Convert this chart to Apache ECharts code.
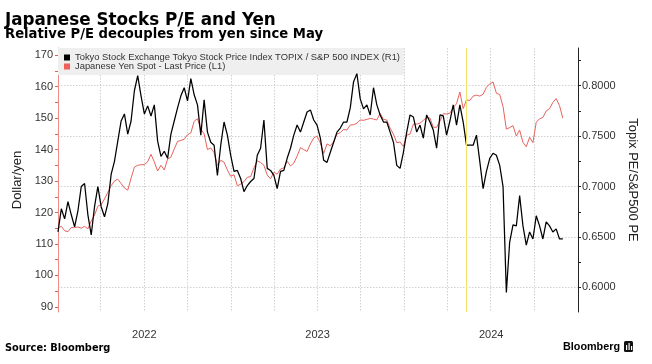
<!DOCTYPE html>
<html><head><meta charset="utf-8">
<script src="https://cdn.jsdelivr.net/npm/echarts@6/dist/echarts.min.js"></script>
<style>html,body{margin:0;padding:0;background:#fff}#c{width:652px;height:364px}</style>
</head><body><div id="c"></div>
<script>
// Weekly observations starting 2022-01-01
const startYear = 2022;
const yearLabels = ['2022', '2023', '2024'];
const yenName = 'Japanese Yen Spot - Last Price (L1)';
const peName = 'Tokyo Stock Exchange Tokyo Stock Price Index TOPIX / S&P 500 INDEX (R1)';
const yen = [115.1,115.6,114.2,113.9,115.2,115.2,115.4,115.0,115.6,114.8,
117.3,119.2,122.0,122.5,124.3,126.4,128.5,130.0,130.6,129.2,
127.8,127.1,130.9,134.4,135.0,135.2,135.2,136.1,138.5,136.1,
133.2,135.0,133.5,137.0,137.6,140.2,142.6,142.9,143.3,144.7,
145.3,149.0,149.8,146.5,145.0,140.0,140.5,139.0,135.0,136.6,
136.0,133.5,131.5,132.0,128.5,129.0,129.8,131.2,131.4,134.2,
136.4,135.9,135.0,131.9,130.7,132.8,132.2,133.8,134.2,136.3,
134.8,135.7,137.9,140.6,140.0,139.4,141.8,143.7,144.3,142.1,
138.8,141.8,141.2,142.5,144.9,145.4,146.4,146.2,147.8,147.9,
148.4,149.4,149.3,149.6,149.9,149.7,149.4,151.5,149.6,149.4,
146.8,144.9,142.2,142.4,141.0,144.6,144.9,148.1,148.1,148.4,
149.3,150.2,150.0,147.1,147.1,149.0,151.4,151.3,151.6,153.3,
154.6,158.3,153.0,155.8,155.6,157.0,157.3,157.0,157.6,159.8,
160.9,161.5,157.9,157.5,153.7,146.5,147.0,147.6,144.3,146.2,
142.3,140.9,143.9,142.2,148.7,149.8,150.2,152.3,153.0,155.0,
156.2,154.0,150.0];
const peRatio = [0.655,0.678,0.668,0.685,0.672,0.660,0.676,0.700,0.703,0.672,
0.652,0.680,0.700,0.680,0.670,0.683,0.712,0.725,0.745,0.765,
0.772,0.752,0.765,0.795,0.810,0.790,0.772,0.780,0.770,0.781,
0.745,0.730,0.735,0.728,0.752,0.765,0.778,0.790,0.798,0.785,
0.807,0.791,0.781,0.751,0.786,0.754,0.744,0.741,0.711,0.741,
0.764,0.751,0.731,0.715,0.716,0.708,0.695,0.701,0.705,0.708,
0.731,0.738,0.766,0.718,0.716,0.711,0.698,0.715,0.716,0.728,
0.738,0.751,0.761,0.754,0.764,0.774,0.776,0.766,0.761,0.748,
0.726,0.724,0.734,0.744,0.754,0.758,0.764,0.764,0.778,0.804,
0.812,0.787,0.777,0.781,0.771,0.798,0.781,0.771,0.764,0.764,
0.754,0.744,0.721,0.718,0.734,0.754,0.771,0.769,0.754,0.761,
0.748,0.771,0.764,0.756,0.738,0.771,0.770,0.751,0.765,0.781,
0.761,0.781,0.764,0.741,0.741,0.741,0.751,0.725,0.698,0.715,
0.728,0.733,0.731,0.721,0.700,0.595,0.645,0.662,0.661,0.691,
0.661,0.642,0.655,0.648,0.671,0.661,0.648,0.665,0.661,0.655,
0.658,0.648,0.648];
const yenTicks = [90,95,100,105,110,115,120,125,130,135,140,145,150,155,160,165,170];
const yenLabels = [90,100,110,120,130,140,150,160,170];
const peLabels = [0.60,0.65,0.70,0.75,0.80];
const peMinorTicks = [0.625,0.675,0.725,0.775,0.825];
const markerDate = Date.UTC(2024,4,10);

const DAY = 86400000;
const t0 = Date.UTC(startYear,0,1);
const weeks = yen.map((_, i) => t0 + i * 7 * DAY);
const quarters = [];
for (let y = 2022; y <= 2025; y++) for (let m = 0; m < 12; m += 3) { const t = Date.UTC(y,m,1); if (t <= Date.UTC(2025,0,1)) quarters.push(t); }
const labelPos = yearLabels.map(y => Date.UTC(+y,6,2));

const axFont = 'Liberation Sans';
const chart = echarts.init(document.getElementById('c'), null, {renderer:'canvas'});
chart.setOption({
  animation: false,
  backgroundColor: '#fff',
  grid: {left: 58, right: 74, top: 48, bottom: 52, containLabel: false, outerBoundsMode: 'none'},
  graphic: [
    {type:'text', x: 5, y: 20.3, style:{text:'Japanese Stocks P/E and Yen', font:'bold 16.8px "DejaVu Sans"', fill:'#000', verticalAlign:'middle', textVerticalAlign:'middle'}},
    {type:'text', x: 5, y: 35, style:{text:'Relative P/E decouples from yen since May', font:'bold 13.2px "DejaVu Sans"', fill:'#000', verticalAlign:'middle', textVerticalAlign:'middle'}},
    {type:'text', x: 5, y: 348, style:{text:'Source: Bloomberg', font:'bold 9.8px "DejaVu Sans"', fill:'#000', verticalAlign:'middle', textVerticalAlign:'middle'}},
    {type:'text', x: 620, y: 347, style:{text:'Bloomberg', font:'bold 10.8px "Liberation Sans"', fill:'#000', align:'right', textAlign:'right', verticalAlign:'middle', textVerticalAlign:'middle'}},
    {type:'rect', shape:{x:624, y:341, width:9, height:11, r:1.5}, style:{fill:'#111'}},
    {type:'rect', shape:{x:626, y:345, width:1.2, height:5}, style:{fill:'#fff'}},
    {type:'rect', shape:{x:628.5, y:343, width:1.2, height:7}, style:{fill:'#fff'}},
    {type:'rect', shape:{x:631, y:346, width:1.2, height:4}, style:{fill:'#fff'}}
  ],
  legend: {
    left: 58, top: 48, orient: 'vertical', backgroundColor: '#efefef',
    padding: [5, 4, 4, 6], itemGap: 0, itemWidth: 6, itemHeight: 6, icon: 'rect',
    textStyle: {fontFamily: axFont, fontSize: 9.4, color: '#333'},
    data: [peName, yenName]
  },
  xAxis: {
    type: 'value', min: Date.UTC(2022,0,1), max: Date.UTC(2025,0,1),
    axisLine: {show: false},
    axisTick: {show: false, customValues: quarters},
    splitLine: {show: true, lineStyle: {color: '#d0d0d0', type: [1.5, 1.5], width: 1}},
    axisLabel: {customValues: labelPos, margin: 17, fontFamily: axFont, fontSize: 11, color: '#333',
      formatter: v => String(new Date(v).getUTCFullYear())}
  },
  yAxis: [
    {
      type: 'value', position: 'left', min: 88.37, max: 172.29,
      name: 'Dollar/yen', nameLocation: 'middle', nameGap: 28,
      nameTextStyle: {fontFamily: axFont, fontSize: 13, color: '#222'},
      axisLine: {show: true, lineStyle: {color: '#ee8c88', width: 1}},
      axisTick: {show: true, length: 3, customValues: yenTicks, lineStyle: {color: '#e5605c'}},
      axisLabel: {customValues: yenLabels, margin: 5, fontFamily: axFont, fontSize: 11, color: '#333'},
      splitLine: {show: false}
    },
    {
      type: 'value', position: 'right', min: 0.5756, max: 0.8374,
      name: 'Topix PE/S&P500 PE', nameLocation: 'middle', nameGap: 40, nameRotate: -90,
      nameTextStyle: {fontFamily: axFont, fontSize: 13, color: '#222'},
      axisLine: {show: true, lineStyle: {color: '#222', width: 1}},
      axisTick: {show: true, length: 3, customValues: peLabels, lineStyle: {color: '#222'}},
      axisLabel: {customValues: peLabels, margin: 4, fontFamily: axFont, fontSize: 11, color: '#333',
        formatter: v => v.toFixed(4)},
      splitLine: {show: true, lineStyle: {color: '#d0d0d0', type: [1.5, 1.5], width: 1}}
    },
    {
      type: 'value', position: 'right', min: 0.5756, max: 0.8374, offset: 0,
      axisLine: {show: false},
      axisTick: {show: true, length: 3, customValues: peMinorTicks, lineStyle: {color: '#222'}},
      axisLabel: {show: false},
      splitLine: {show: false}
    }
  ],
  series: [
    {
      name: peName, type: 'line', yAxisIndex: 1, showSymbol: false, symbol: 'none', z: 4,
      data: weeks.map((t, i) => [t, peRatio[i]]),
      lineStyle: {color: '#000', width: 1.25}, itemStyle: {color: '#000'}
    },
    {
      name: yenName, type: 'line', yAxisIndex: 0, showSymbol: false, symbol: 'none', z: 3,
      data: weeks.map((t, i) => [t, yen[i]]),
      lineStyle: {color: '#e8625e', width: 1}, itemStyle: {color: '#ee5f5b'},
      markLine: {silent: true, symbol: 'none', label: {show: false},
        lineStyle: {color: '#f1e46a', width: 1, type: 'solid'},
        data: [{xAxis: markerDate}]}
    }
  ]
});
</script></body></html>
